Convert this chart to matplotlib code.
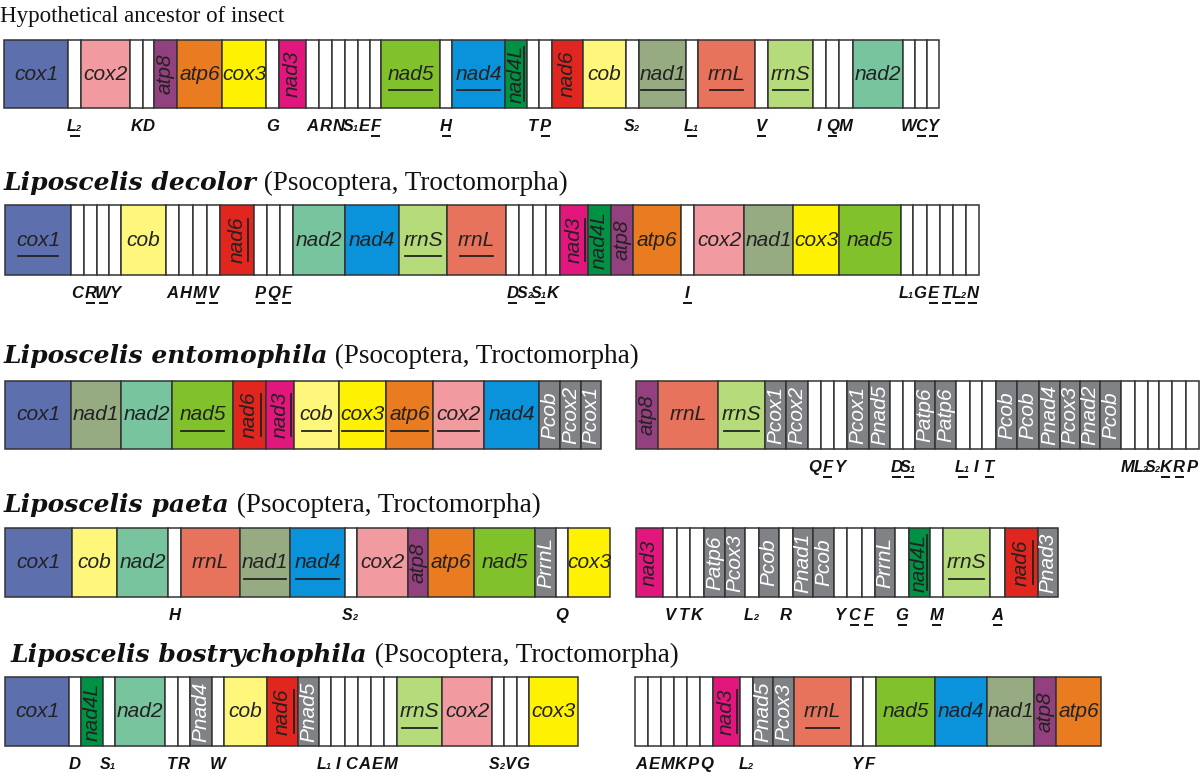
import matplotlib.pyplot as plt
from matplotlib.patches import Rectangle

# gene order of each mitochondrial map, left to right.
# a leading "-" = gene on the other strand (underlined in the figure)
# names of one or two characters are tRNAs, names starting with "P" are pseudogenes
row1_genes = ["cox1", "-L2", "cox2", "K", "D", "atp8", "atp6", "cox3", "G", "nad3",
              "A", "R", "N", "S1", "E", "-F", "-nad5", "-H", "-nad4", "-nad4L",
              "T", "-P", "nad6", "cob", "S2", "-nad1", "-L1", "-rrnL", "-V", "-rrnS",
              "I", "-Q", "M", "nad2", "W", "-C", "-Y"]
row1_widths = [64, 13, 49, 13, 11, 23, 45, 44, 13, 27, 13, 13, 13, 13, 12, 11, 59, 12, 53, 22,
               12, 13, 31, 43, 13, 47, 12, 57, 13, 45, 13, 13, 14, 50, 12, 12, 12]

row2_genes = ["-cox1", "C", "-R", "-W", "Y", "cob", "A", "H", "-M", "-V", "-nad6",
              "-P", "-Q", "-F", "nad2", "nad4", "-rrnS", "-rrnL", "-D", "S2", "-S1", "K",
              "-nad3", "nad4L", "atp8", "atp6", "-I", "cox2", "nad1", "cox3", "nad5",
              "L1", "G", "-E", "-T", "-L2", "-N"]
row2_widths = [66, 13, 13, 12, 12, 45, 13, 14, 14, 13, 34, 13, 13, 13, 52, 54, 48, 59, 13, 14,
               13, 14, 28, 23, 22, 48, 13, 50, 49, 46, 62, 12, 14, 13, 13, 13, 13]

row3a_genes = ["cox1", "nad1", "nad2", "-nad5", "-nad6", "-nad3", "-cob", "-cox3", "-atp6",
               "-cox2", "nad4", "Pcob", "Pcox2", "Pcox1"]
row3a_widths = [66, 50, 51, 61, 33, 28, 45, 47, 47, 51, 55, 21, 21, 20]

row3b_genes = ["atp8", "rrnL", "-rrnS", "Pcox1", "Pcox2", "Q", "-F", "Y", "Pcox1", "Pnad5",
               "-D", "-S1", "Patp6", "Patp6", "-L1", "I", "-T", "Pcob", "Pcob", "Pnad4",
               "Pcox3", "Pnad2", "Pcob", "M", "L2", "S2", "-K", "-R", "P"]
row3b_widths = [22, 60, 47, 21, 22, 13, 13, 13, 22, 21, 13, 12, 20, 21, 14, 12, 14, 21, 22, 21,
                20, 20, 21, 14, 13, 11, 13, 14, 13]

row4a_genes = ["cox1", "cob", "nad2", "H", "rrnL", "-nad1", "-nad4", "S2", "cox2", "atp8",
               "atp6", "nad5", "PrrnL", "Q", "cox3"]
row4a_widths = [67, 45, 51, 13, 59, 50, 55, 12, 51, 20, 46, 61, 21, 12, 42]

row4b_genes = ["nad3", "V", "T", "K", "Patp6", "Pcox3", "L2", "Pcob", "R", "Pnad1", "Pcob",
               "Y", "-C", "-F", "PrrnL", "-G", "-nad4L", "-M", "-rrnS", "-A", "-nad6", "Pnad3"]
row4b_widths = [27, 14, 13, 14, 21, 20, 14, 20, 14, 20, 21, 13, 15, 13, 20, 14, 21, 13, 47,
                15, 33, 20]

row5a_genes = ["cox1", "-D", "nad4L", "S1", "nad2", "-T", "-R", "Pnad4", "W", "cob", "-nad6",
               "Pnad5", "-L1", "-I", "-C", "-A", "-E", "M", "-rrnS", "cox2", "-S2", "V", "G",
               "cox3"]
row5a_widths = [64, 12, 22, 12, 50, 13, 12, 22, 12, 43, 31, 21, 12, 14, 13, 13, 13, 13, 45, 50,
                12, 13, 12, 49]

row5b_genes = ["-A", "-E", "M", "-K", "-P", "Q", "-nad3", "-L2", "Pnad5", "Pcox3", "-rrnL",
               "Y", "F", "nad5", "nad4", "nad1", "atp8", "atp6"]
row5b_widths = [13, 13, 13, 13, 13, 13, 27, 13, 20, 21, 57, 12, 13, 59, 52, 47, 22, 45]

species = ["", "Liposcelis decolor", "Liposcelis entomophila", "Liposcelis paeta",
           "Liposcelis bostrychophila"]
title_rest = ["Hypothetical ancestor of insect", " (Psocoptera, Troctomorpha)",
              " (Psocoptera, Troctomorpha)", " (Psocoptera, Troctomorpha)",
              " (Psocoptera, Troctomorpha)"]

gene_colors = {
    "cox1": "#5d6fad", "cox2": "#f19ba0", "cox3": "#fff200", "atp8": "#93407f",
    "atp6": "#e97b20", "nad3": "#e2177d", "nad5": "#80c12c", "nad4": "#0a92da",
    "nad4L": "#009144", "nad6": "#e1251f", "cob": "#fff67c", "nad1": "#97ab82",
    "rrnL": "#e8735d", "rrnS": "#b5db7b", "nad2": "#78c49e",
}
pseudo_color = "#808285"
edge = "#333333"

sans = ["Liberation Sans Narrow", "Liberation Sans", "DejaVu Sans"]
serif = ["Liberation Serif", "DejaVu Serif"]

fig = plt.figure(figsize=(12, 7.73), dpi=100)
ax = fig.add_axes([0, 0, 1, 1])
ax.set_xlim(0, 1200)
ax.set_ylim(773, 0)
ax.axis("off")
renderer = fig.canvas.get_renderer()
inv = ax.transData.inverted()


def data_box(t):
    bb = t.get_window_extent(renderer=renderer)
    (xa, ya), (xb, yb) = inv.transform([(bb.x0, bb.y0), (bb.x1, bb.y1)])
    return min(xa, xb), max(xa, xb), min(ya, yb), max(ya, yb)


def trna_label(name, cx, base, minus):
    letter, sub = name[0], name[1:]
    kw = dict(family=sans, style="italic", weight="bold", color="#111111", va="baseline")
    if sub:
        ax.text(cx + 1.5, base, letter, ha="right", fontsize=11.5, **kw)
        ax.text(cx + 1, base, sub, ha="left", fontsize=6.5, **kw)
        lx0, lx1 = cx - 5, cx + 5
    else:
        ax.text(cx, base, letter, ha="center", fontsize=12, **kw)
        lx0, lx1 = cx - 4.5, cx + 4.5
    if minus:
        ax.plot([lx0, lx1], [base + 4.5, base + 4.5], color="#111111", lw=1.4,
                solid_capstyle="butt")


def draw_map(genes, widths, x0, top, h):
    x = x0
    for raw, w in zip(genes, widths):
        minus = raw.startswith("-")
        name = raw.lstrip("-")
        cx, cy = x + w / 2, top + h / 2
        if len(name) <= 2:
            ax.add_patch(Rectangle((x, top), w, h, fc="white", ec=edge, lw=1.1))
            trna_label(name, cx, top + h + 23, minus)
        else:
            pseudo = name[0] == "P"
            fc = pseudo_color if pseudo else gene_colors[name]
            ax.add_patch(Rectangle((x, top), w, h, fc=fc, ec=edge, lw=1.1))
            tc = "white" if pseudo else "#222222"
            vertical = w < 36
            t = ax.text(cx, cy, name, ha="center", va="center", family=sans,
                        style="italic", fontsize=15, color=tc,
                        rotation=90 if vertical else 0)
            if minus:
                bx0, bx1, by0, by1 = data_box(t)
                if vertical:
                    ux = min(bx1 + 1.5, x + w - 3)
                    ax.plot([ux, ux], [by0 + 2, by1 - 2], color="#222222", lw=1.3)
                else:
                    ax.plot([bx0 + 2, bx1 - 2], [cy + 16, cy + 16], color="#222222", lw=1.3)
        x += w


def draw_title(i, x, base):
    kw = dict(va="baseline", color="#111111")
    if species[i]:
        t = ax.text(x, base, species[i], fontsize=18, style="italic", weight="bold",
                    family=["DejaVu Serif"], **kw)
        x = data_box(t)[1]
        ax.text(x, base, title_rest[i], fontsize=19.5, family=serif, **kw)
    else:
        ax.text(x, base, title_rest[i], fontsize=16.5, family=serif, **kw)


draw_title(0, 0, 22)
draw_title(1, 4, 190)
draw_title(2, 4, 363)
draw_title(3, 4, 512)
draw_title(4, 11, 662)

draw_map(row1_genes, row1_widths, 4, 40, 68)
draw_map(row2_genes, row2_widths, 5, 205, 70)
draw_map(row3a_genes, row3a_widths, 5, 381, 68)
draw_map(row3b_genes, row3b_widths, 636, 381, 68)
draw_map(row4a_genes, row4a_widths, 5, 528, 69)
draw_map(row4b_genes, row4b_widths, 636, 528, 69)
draw_map(row5a_genes, row5a_widths, 5, 677, 69)
draw_map(row5b_genes, row5b_widths, 635, 677, 69)

fig.savefig("out.png", dpi=100)
